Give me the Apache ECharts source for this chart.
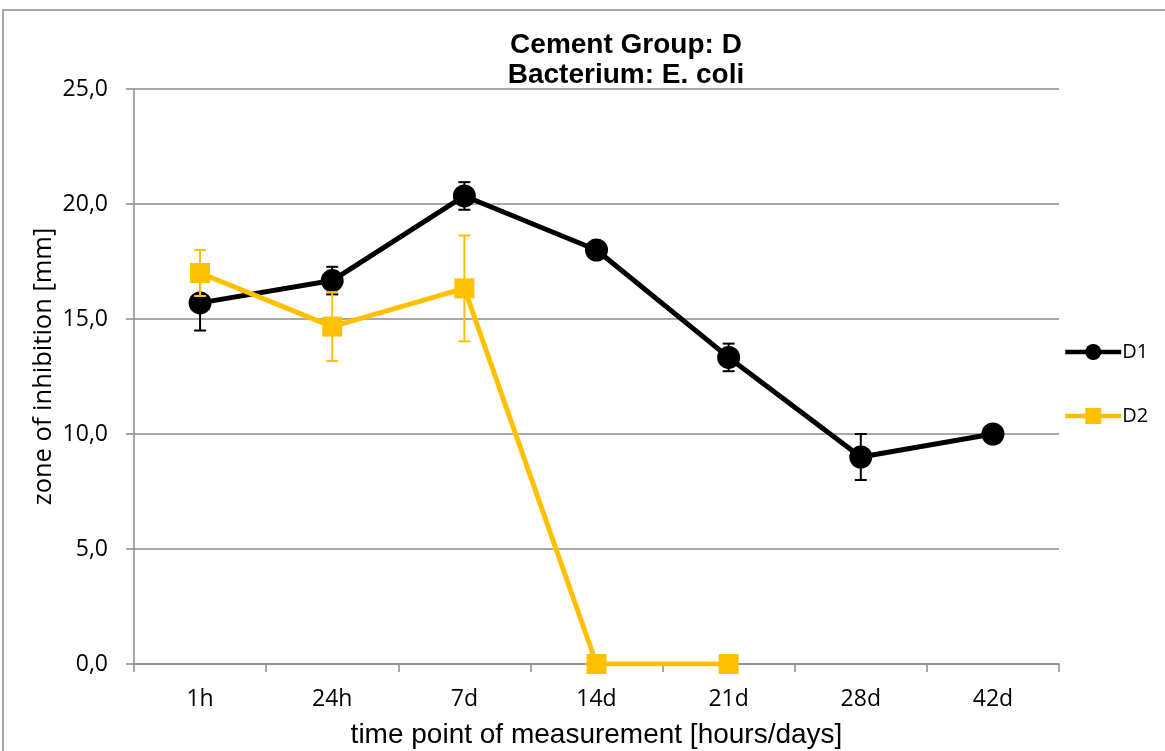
<!DOCTYPE html>
<html>
<head>
<meta charset="utf-8">
<script src="https://cdn.jsdelivr.net/npm/echarts@6/dist/echarts.min.js"></script>
<style>
  html, body { margin: 0; padding: 0; background: #fff; }
  #chart { width: 1165px; height: 751px; }
</style>
</head>
<body>
<div id="chart"></div>
<script>
// Time points of measurement
const categories = ['1h', '24h', '7d', '14d', '21d', '28d', '42d'];
// Mean zone of inhibition [mm]
const d1Values = [15.7, 16.67, 20.35, 18.0, 13.33, 9.0, 10.0];
const d2Values = [17.0, 14.67, 16.33, 0.0, 0.0, null, null];
// Standard deviations
const d1Errors = [1.2, 0.6, 0.6, 0, 0.6, 1.0, 0];
const d2Errors = [1.0, 1.5, 2.3, 0, 0, null, null];
// Y axis tick values
const yTicks = [0, 5, 10, 15, 20, 25];

const ARIAL = '"Liberation Sans", Arial, sans-serif';
const SANS = '"Open Sans", "Noto Sans", sans-serif';

function errorData(values, errors) {
  const out = [];
  values.forEach((v, i) => {
    if (v != null && errors[i]) out.push([i, v - errors[i], v + errors[i]]);
  });
  return out;
}

function errorSeries(values, errors, color, z) {
  return {
    type: 'custom',
    z: z,
    silent: true,
    data: errorData(values, errors),
    encode: { x: 0, y: [1, 2] },
    renderItem: function (params, api) {
      const x = api.value(0);
      const lo = api.coord([x, api.value(1)]);
      const hi = api.coord([x, api.value(2)]);
      const half = 6;
      const style = { stroke: color, lineWidth: 2 };
      return {
        type: 'group',
        children: [
          { type: 'line', shape: { x1: lo[0], y1: lo[1], x2: hi[0], y2: hi[1] }, style: style },
          { type: 'line', shape: { x1: lo[0] - half, y1: lo[1], x2: lo[0] + half, y2: lo[1] }, style: style },
          { type: 'line', shape: { x1: hi[0] - half, y1: hi[1], x2: hi[0] + half, y2: hi[1] }, style: style }
        ]
      };
    }
  };
}

const chart = echarts.init(document.getElementById('chart'), null, { renderer: 'canvas' });

chart.setOption({
  animation: false,
  backgroundColor: '#ffffff',
  graphic: [{
    type: 'rect',
    silent: true,
    z: -10,
    shape: { x: 3, y: 10, width: 1300, height: 900 },
    style: { fill: 'none', stroke: '#8c8c8c', lineWidth: 1.5 }
  }],
  title: {
    text: 'Cement Group: D\nBacterium: E. coli',
    left: 621,
    top: 25,
    textAlign: 'center',
    textStyle: {
      fontFamily: ARIAL,
      fontWeight: 'bold',
      fontSize: 28,
      lineHeight: 30,
      color: '#000'
    }
  },
  legend: {
    orient: 'vertical',
    left: 1058,
    top: 337,
    itemGap: 44,
    itemWidth: 56,
    itemHeight: 20,
    lineStyle: { width: 4.5 },
    textStyle: { fontFamily: SANS, fontSize: 20, color: '#000', padding: [0, 0, 0, -4] },
    data: ['D1', 'D2']
  },
  grid: { left: 134, right: 106, top: 89, bottom: 87, containLabel: false, outerBoundsMode: 'none' },
  xAxis: {
    type: 'category',
    data: categories,
    boundaryGap: true,
    name: 'time point of measurement [hours/days]',
    nameLocation: 'middle',
    nameGap: 57,
    nameTextStyle: { fontFamily: ARIAL, fontSize: 28, color: '#000' },
    axisLine: { lineStyle: { color: '#8c8c8c', width: 1.5 } },
    axisTick: { show: true, alignWithLabel: false, length: 8, lineStyle: { color: '#8c8c8c', width: 1.5 } },
    axisLabel: { fontFamily: SANS, fontSize: 23, color: '#000', margin: 24 },
    splitLine: { show: false }
  },
  yAxis: {
    type: 'value',
    min: 0,
    max: 25,
    interval: 5,
    name: 'zone of inhibition [mm]',
    nameLocation: 'middle',
    nameGap: 77,
    nameMoveOverlap: false,
    nameTextStyle: { fontFamily: SANS, fontSize: 25.5, color: '#000', padding: [0, 0, 0, 20] },
    axisLine: { show: true, lineStyle: { color: '#8c8c8c', width: 1.5 } },
    axisTick: { show: true, length: 8, lineStyle: { color: '#8c8c8c', width: 1.5 } },
    axisLabel: {
      fontFamily: SANS,
      fontSize: 23,
      color: '#000',
      margin: 26,
      formatter: v => yTicks.includes(v) ? v.toFixed(1).replace('.', ',') : ''
    },
    splitLine: { show: true, lineStyle: { color: '#8c8c8c', width: 1.5 } }
  },
  series: [
    errorSeries(d1Values, d1Errors, '#000000', 2),
    {
      name: 'D1',
      type: 'line',
      z: 3,
      data: d1Values,
      symbol: 'circle',
      symbolSize: 23,
      lineStyle: { color: '#000000', width: 5 },
      itemStyle: { color: '#000000' }
    },
    errorSeries(d2Values, d2Errors, '#ffc000', 4),
    {
      name: 'D2',
      type: 'line',
      z: 5,
      data: d2Values,
      symbol: 'rect',
      symbolSize: 20,
      lineStyle: { color: '#ffc000', width: 5 },
      itemStyle: { color: '#ffc000' }
    }
  ]
});
</script>
</body>
</html>
